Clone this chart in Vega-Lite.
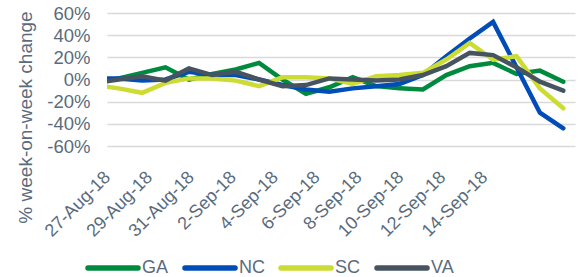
{
  "$schema": "https://vega.github.io/schema/vega-lite/v6.json",
  "width": 468,
  "height": 133,
  "autosize": {"type": "none"},
  "padding": {"left": 107, "top": 13, "right": 8, "bottom": 131},
  "background": "white",
  "config": {"view": {"stroke": null}, "font": "Liberation Sans"},
  "data": {
    "values": [
      {"date": "2018-08-26T00:00:00", "state": "GA", "change": -3},
      {"date": "2018-08-27T00:00:00", "state": "GA", "change": 1},
      {"date": "2018-08-28T00:00:00", "state": "GA", "change": 6},
      {"date": "2018-08-29T00:00:00", "state": "GA", "change": 11},
      {"date": "2018-08-30T00:00:00", "state": "GA", "change": 0},
      {"date": "2018-08-31T00:00:00", "state": "GA", "change": 5},
      {"date": "2018-09-01T00:00:00", "state": "GA", "change": 9},
      {"date": "2018-09-02T00:00:00", "state": "GA", "change": 15},
      {"date": "2018-09-03T00:00:00", "state": "GA", "change": 0},
      {"date": "2018-09-04T00:00:00", "state": "GA", "change": -13},
      {"date": "2018-09-05T00:00:00", "state": "GA", "change": -7},
      {"date": "2018-09-06T00:00:00", "state": "GA", "change": 2},
      {"date": "2018-09-07T00:00:00", "state": "GA", "change": -6},
      {"date": "2018-09-08T00:00:00", "state": "GA", "change": -8},
      {"date": "2018-09-09T00:00:00", "state": "GA", "change": -9},
      {"date": "2018-09-10T00:00:00", "state": "GA", "change": 4},
      {"date": "2018-09-11T00:00:00", "state": "GA", "change": 12},
      {"date": "2018-09-12T00:00:00", "state": "GA", "change": 15},
      {"date": "2018-09-13T00:00:00", "state": "GA", "change": 5},
      {"date": "2018-09-14T00:00:00", "state": "GA", "change": 8},
      {"date": "2018-09-15T00:00:00", "state": "GA", "change": -2},
      {"date": "2018-08-26T00:00:00", "state": "NC", "change": 1},
      {"date": "2018-08-27T00:00:00", "state": "NC", "change": 1},
      {"date": "2018-08-28T00:00:00", "state": "NC", "change": -1},
      {"date": "2018-08-29T00:00:00", "state": "NC", "change": 0},
      {"date": "2018-08-30T00:00:00", "state": "NC", "change": 7},
      {"date": "2018-08-31T00:00:00", "state": "NC", "change": 4},
      {"date": "2018-09-01T00:00:00", "state": "NC", "change": 4},
      {"date": "2018-09-02T00:00:00", "state": "NC", "change": 0},
      {"date": "2018-09-03T00:00:00", "state": "NC", "change": -5},
      {"date": "2018-09-04T00:00:00", "state": "NC", "change": -9},
      {"date": "2018-09-05T00:00:00", "state": "NC", "change": -11},
      {"date": "2018-09-06T00:00:00", "state": "NC", "change": -8},
      {"date": "2018-09-07T00:00:00", "state": "NC", "change": -6},
      {"date": "2018-09-08T00:00:00", "state": "NC", "change": -4},
      {"date": "2018-09-09T00:00:00", "state": "NC", "change": 4},
      {"date": "2018-09-10T00:00:00", "state": "NC", "change": 21},
      {"date": "2018-09-11T00:00:00", "state": "NC", "change": 37},
      {"date": "2018-09-12T00:00:00", "state": "NC", "change": 52},
      {"date": "2018-09-13T00:00:00", "state": "NC", "change": 11},
      {"date": "2018-09-14T00:00:00", "state": "NC", "change": -30},
      {"date": "2018-09-15T00:00:00", "state": "NC", "change": -44},
      {"date": "2018-08-26T00:00:00", "state": "SC", "change": -5},
      {"date": "2018-08-27T00:00:00", "state": "SC", "change": -8},
      {"date": "2018-08-28T00:00:00", "state": "SC", "change": -12},
      {"date": "2018-08-29T00:00:00", "state": "SC", "change": -3},
      {"date": "2018-08-30T00:00:00", "state": "SC", "change": 1},
      {"date": "2018-08-31T00:00:00", "state": "SC", "change": 1},
      {"date": "2018-09-01T00:00:00", "state": "SC", "change": -1},
      {"date": "2018-09-02T00:00:00", "state": "SC", "change": -6},
      {"date": "2018-09-03T00:00:00", "state": "SC", "change": 2},
      {"date": "2018-09-04T00:00:00", "state": "SC", "change": 2},
      {"date": "2018-09-05T00:00:00", "state": "SC", "change": 1},
      {"date": "2018-09-06T00:00:00", "state": "SC", "change": -4},
      {"date": "2018-09-07T00:00:00", "state": "SC", "change": 3},
      {"date": "2018-09-08T00:00:00", "state": "SC", "change": 4},
      {"date": "2018-09-09T00:00:00", "state": "SC", "change": 6},
      {"date": "2018-09-10T00:00:00", "state": "SC", "change": 18},
      {"date": "2018-09-11T00:00:00", "state": "SC", "change": 33},
      {"date": "2018-09-12T00:00:00", "state": "SC", "change": 18},
      {"date": "2018-09-13T00:00:00", "state": "SC", "change": 21},
      {"date": "2018-09-14T00:00:00", "state": "SC", "change": -8},
      {"date": "2018-09-15T00:00:00", "state": "SC", "change": -26},
      {"date": "2018-08-26T00:00:00", "state": "VA", "change": -3},
      {"date": "2018-08-27T00:00:00", "state": "VA", "change": 0},
      {"date": "2018-08-28T00:00:00", "state": "VA", "change": 3},
      {"date": "2018-08-29T00:00:00", "state": "VA", "change": -1},
      {"date": "2018-08-30T00:00:00", "state": "VA", "change": 10},
      {"date": "2018-08-31T00:00:00", "state": "VA", "change": 4},
      {"date": "2018-09-01T00:00:00", "state": "VA", "change": 7},
      {"date": "2018-09-02T00:00:00", "state": "VA", "change": 0},
      {"date": "2018-09-03T00:00:00", "state": "VA", "change": -6},
      {"date": "2018-09-04T00:00:00", "state": "VA", "change": -5},
      {"date": "2018-09-05T00:00:00", "state": "VA", "change": 1},
      {"date": "2018-09-06T00:00:00", "state": "VA", "change": 0},
      {"date": "2018-09-07T00:00:00", "state": "VA", "change": -1},
      {"date": "2018-09-08T00:00:00", "state": "VA", "change": 0},
      {"date": "2018-09-09T00:00:00", "state": "VA", "change": 4},
      {"date": "2018-09-10T00:00:00", "state": "VA", "change": 12},
      {"date": "2018-09-11T00:00:00", "state": "VA", "change": 24},
      {"date": "2018-09-12T00:00:00", "state": "VA", "change": 22},
      {"date": "2018-09-13T00:00:00", "state": "VA", "change": 11},
      {"date": "2018-09-14T00:00:00", "state": "VA", "change": -2},
      {"date": "2018-09-15T00:00:00", "state": "VA", "change": -10}
    ]
  },
  "encoding": {
    "y": {
      "field": "change",
      "type": "quantitative",
      "scale": {"domain": [-60, 60]},
      "axis": {
        "values": [-60, -40, -20, 0, 20, 40, 60],
        "labelExpr": "datum.value + '%'",
        "labelOverlap": false,
        "grid": true,
        "gridColor": "#D9D9D9",
        "gridWidth": 1.5,
        "domain": false,
        "ticks": false,
        "labelFontSize": 18.5,
        "labelColor": "#5B6B7C",
        "labelPadding": 17,
        "title": "% week-on-week change",
        "titleFontSize": 19,
        "titleFontWeight": "normal",
        "titleColor": "#5B6B7C",
        "titleAngle": -90,
        "titleAlign": "center",
        "titleBaseline": "middle",
        "titleX": -82,
        "titleY": 104
      }
    }
  },
  "layer": [
    {
      "mark": {"type": "line", "strokeWidth": 4.5, "clip": true, "strokeCap": "round"},
      "encoding": {
        "x": {
          "field": "date",
          "type": "temporal",
          "scale": {"domain": [{"year": 2018, "month": 8, "date": 26, "hours": 12}, {"year": 2018, "month": 9, "date": 15, "hours": 12}]},
          "axis": null
        },
        "color": {
          "field": "state",
          "type": "nominal",
          "scale": {"domain": ["GA", "NC", "SC", "VA"], "range": ["#008A3E", "#004DB8", "#CDDC32", "#465461"]},
          "legend": {
            "orient": "none",
            "legendX": -22,
            "legendY": 227,
            "direction": "horizontal",
            "title": null,
            "symbolType": "stroke",
            "symbolSize": 2500,
            "symbolStrokeWidth": 5.5,
            "labelFontSize": 18,
            "labelColor": "#5B6B7C",
            "labelOffset": 1,
            "columnPadding": 5,
            "padding": 0,
            "encode": {"symbols": {"update": {"strokeCap": {"value": "round"}}}}
          }
        }
      }
    },
    {
      "mark": {"type": "point", "opacity": 0, "clip": true},
      "encoding": {
        "x": {
          "field": "date",
          "type": "temporal",
          "scale": {"domain": [{"year": 2018, "month": 8, "date": 27}, {"year": 2018, "month": 9, "date": 18, "hours": 8, "minutes": 10}]},
          "axis": {
            "orient": "bottom",
            "values": [
              {"year": 2018, "month": 8, "date": 27},
              {"year": 2018, "month": 8, "date": 29},
              {"year": 2018, "month": 8, "date": 31},
              {"year": 2018, "month": 9, "date": 2},
              {"year": 2018, "month": 9, "date": 4},
              {"year": 2018, "month": 9, "date": 6},
              {"year": 2018, "month": 9, "date": 8},
              {"year": 2018, "month": 9, "date": 10},
              {"year": 2018, "month": 9, "date": 12},
              {"year": 2018, "month": 9, "date": 14}
            ],
            "format": "%-d-%b-%y",
            "labelAngle": -45,
            "labelFontSize": 18,
            "labelColor": "#5B6B7C",
            "labelPadding": 22,
            "labelOffset": -6,
            "labelOverlap": false,
            "labelFlush": false,
            "domain": false,
            "ticks": false,
            "grid": false,
            "title": null
          }
        }
      }
    }
  ],
  "resolve": {"scale": {"x": "independent"}}
}
